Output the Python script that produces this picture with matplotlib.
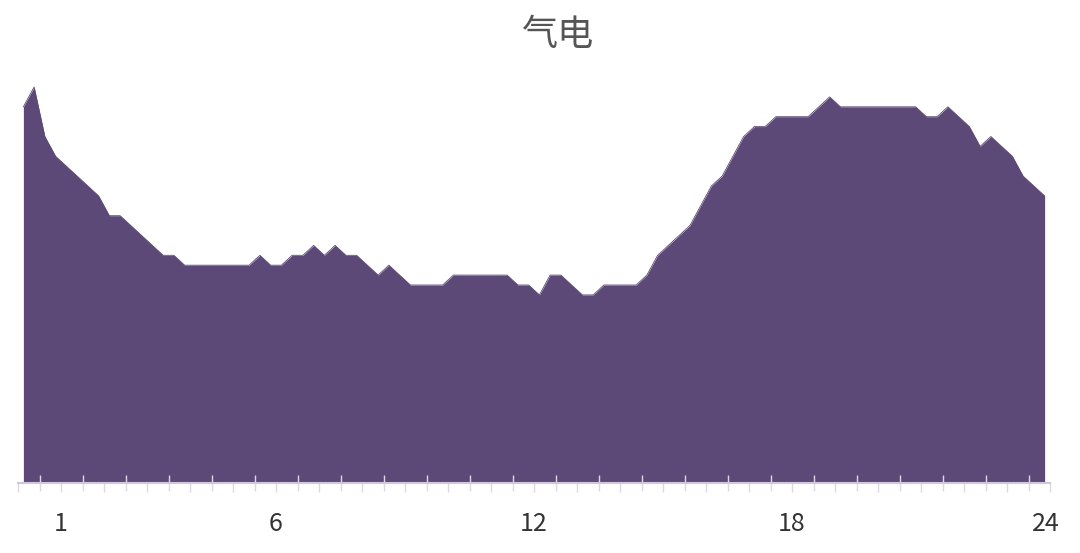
import matplotlib
matplotlib.use("Agg")
import matplotlib.pyplot as plt
import matplotlib.transforms as mtransforms
import numpy as np

plt.rcParams['font.family'] = ['Noto Sans CJK SC', 'DejaVu Sans']

# 96 quarter-hour points, plotted at the middle of each 15-min interval
hours = [0.125 + 0.25 * i for i in range(96)]
gas_power = [
    38, 40, 35, 33, 32, 31, 30, 29, 27, 27, 26, 25, 24, 23, 23, 22,
    22, 22, 22, 22, 22, 22, 23, 22, 22, 23, 23, 24, 23, 24, 23, 23,
    22, 21, 22, 21, 20, 20, 20, 20, 21, 21, 21, 21, 21, 21, 20, 20,
    19, 21, 21, 20, 19, 19, 20, 20, 20, 20, 21, 23, 24, 25, 26, 28,
    30, 31, 33, 35, 36, 36, 37, 37, 37, 37, 38, 39, 38, 38, 38, 38,
    38, 38, 38, 38, 37, 37, 38, 37, 36, 34, 35, 34, 33, 31, 30, 29,
]
tick_labels = {1: "1", 6: "6", 12: "12", 18: "18", 24: "24"}
title = "气电"

fill_color = "#5c4977"

fig = plt.figure(figsize=(10.8, 5.53), dpi=100)
ax = fig.add_axes([18 / 1080, (553 - 483) / 553, 1032 / 1080, (483 - 67.2) / 553])

ax.fill_between(hours, gas_power, 0, color=fill_color, linewidth=0)
ax.plot(hours, gas_power, color=fill_color, linewidth=0.6)

ax.set_xlim(0, 24)
ax.set_ylim(0, 42)

for s in ["top", "right", "left"]:
    ax.spines[s].set_visible(False)
ax.spines["bottom"].set_color("#cfc7dc")
ax.spines["bottom"].set_linewidth(1.5)
ax.spines["bottom"].set_zorder(5)
ax.set_yticks([])

major = list(range(0, 25))
minor = [h + 0.5 for h in range(24)]
ax.set_xticks(major)
ax.set_xticklabels([tick_labels.get(h, "") for h in major])
ax.set_xticks(minor, minor=True)
ax.tick_params(axis="x", which="major", direction="out", length=6.5, width=1.0,
               color="#dcd8e2", labelsize=18, labelcolor="#333333", pad=13.5)
ax.tick_params(axis="x", which="minor", direction="inout", length=11, width=1.0,
               color="#dcd8e2")
for t in ax.xaxis.get_major_ticks() + ax.xaxis.get_minor_ticks():
    t.tick1line.set_zorder(6)

# last label sits slightly left of its tick, as in the original
last = ax.get_xticklabels()[-1]
last.set_transform(last.get_transform() +
                   mtransforms.ScaledTranslation(-4 / 100, 0, fig.dpi_scale_trans))

fig.text(557 / 1080, 1 - 35 / 553, title, ha="center", va="center",
         fontsize=26, color="#555555")

fig.savefig("out.png", dpi=100)
